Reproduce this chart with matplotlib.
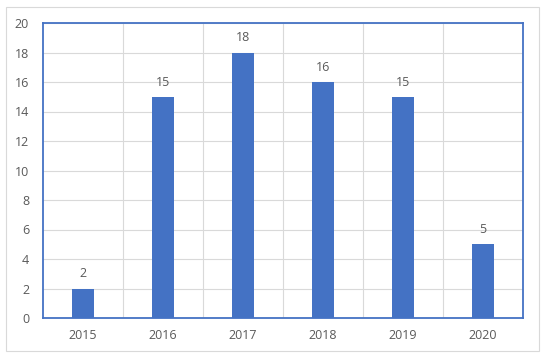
import matplotlib
matplotlib.use("Agg")
import matplotlib.pyplot as plt
from matplotlib.patches import Rectangle

years = ["2015", "2016", "2017", "2018", "2019", "2020"]
counts = [2, 15, 18, 16, 15, 5]
yticks = [0, 2, 4, 6, 8, 10, 12, 14, 16, 18, 20]

plt.rcParams['font.family'] = ['Open Sans', 'DejaVu Sans']
txt = '#595959'
blue = '#4472C4'

fig = plt.figure(figsize=(5.5, 3.6), dpi=100)
fig.patches.append(Rectangle((6/550, 1-351/360), 533/550, 344/360, transform=fig.transFigure,
                             fill=False, edgecolor='#d9d9d9', linewidth=0.8))
ax = fig.add_axes([43/550, 1-318/360, 480/550, 295/360])
x = list(range(len(years)))
bars = ax.bar(x, counts, width=0.27, color=blue, zorder=3)
for xi, v in zip(x, counts):
    ax.text(xi, v + 0.55, str(v), ha='center', va='bottom', fontsize=9, color=txt)
ax.set_xlim(-0.5, len(years) - 0.5)
ax.set_ylim(0, 20)
ax.set_yticks(yticks)
ax.set_yticklabels([str(t) for t in yticks])
ax.set_xticks(x)
ax.set_xticklabels(years)
ax.set_xticks([i + 0.5 for i in range(len(years) - 1)], minor=True)
ax.grid(True, which='major', axis='y', color='#d9d9d9', linewidth=0.8, zorder=0)
ax.grid(True, which='minor', axis='x', color='#d9d9d9', linewidth=0.8, zorder=0)
ax.tick_params(axis='both', which='both', length=0, colors=txt, labelsize=9)
ax.tick_params(axis='x', pad=8)
ax.tick_params(axis='y', pad=10)
for s in ax.spines.values():
    s.set_color(blue)
    s.set_linewidth(1.3)
fig.savefig('out.png', dpi=100)
